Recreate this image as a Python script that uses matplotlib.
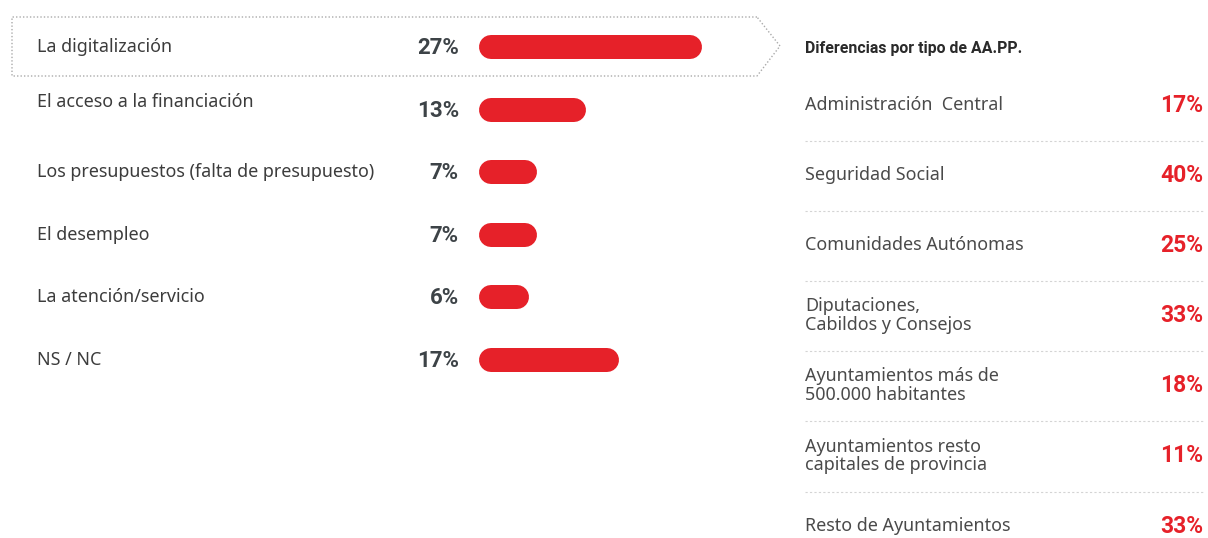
import matplotlib.pyplot as plt
from matplotlib.lines import Line2D

# data
categories = ['La digitalización', 'El acceso a la financiación',
              'Los presupuestos (falta de presupuesto)', 'El desempleo',
              'La atención/servicio', 'NS / NC']
values = [27, 13, 7, 7, 6, 17]

aapp_title = 'Diferencias por tipo de AA.PP.'
aapp_labels = ['Administración  Central', 'Seguridad Social', 'Comunidades Autónomas',
               'Diputaciones,\nCabildos y Consejos',
               'Ayuntamientos más de\n500.000 habitantes',
               'Ayuntamientos resto\ncapitales de provincia',
               'Resto de Ayuntamientos']
aapp_values = [17, 40, 25, 33, 18, 11, 33]

RED = '#E62129'
TXT = '#3c3c3c'
PCT = '#3d4347'
plt.rcParams['font.family'] = ['Noto Sans', 'DejaVu Sans']
BOLD = ['Roboto', 'DejaVu Sans']

W, H = 1208, 538
fig = plt.figure(figsize=(W / 100, H / 100), dpi=100)
ax = fig.add_axes([0, 0, 1, 1])
ax.set_xlim(0, W)
ax.set_ylim(H, 0)
ax.axis('off')

# bar axes: 1 unit = px_per_pct pixels, starts at x=479
px_per_pct = 8.25
bx0, bw = 479, 320
bax = fig.add_axes([bx0 / W, 0, bw / W, 1])
bax.set_xlim(0, bw / px_per_pct)
bax.set_ylim(H, 0)
bax.axis('off')

row_y = [47 + i * 62.6 for i in range(len(categories))]
bar_h = 24
cap = (bar_h / 2) / px_per_pct
for i, (cat, v) in enumerate(zip(categories, values)):
    y = row_y[i]
    ly = y - 8 if i == 1 else y
    ax.text(37, ly, cat, ha='left', va='center', fontsize=12.9, color=TXT)
    ax.text(459, y + 1, f'{v}%', ha='right', va='center', fontsize=16,
            fontweight='bold', color=PCT, family=BOLD)
    bax.plot([cap, v - cap], [y, y], color=RED, lw=bar_h * 0.72,
             solid_capstyle='round')

# dotted callout around first row
bx = [757, 12, 12, 757, 780, 757]
by = [17, 17, 76, 76, 46, 17]
ax.add_line(Line2D(bx, by, color='#aaaaaa', lw=1.0, linestyle=(0, (1, 1.5))))

# right panel
ax.text(805, 48, aapp_title, ha='left', va='center', fontsize=11.4,
        fontweight='bold', color='#2a2a2a', family=BOLD)
r_y = [105 + i * 70.2 for i in range(len(aapp_labels))]
for i, (lab, v) in enumerate(zip(aapp_labels, aapp_values)):
    y = r_y[i]
    ax.text(805, y, lab, ha='left', va='center', fontsize=12.9, color='#4a4a4a',
            linespacing=1.05)
    ax.text(1203, y, f'{v}%', ha='right', va='center', fontsize=16.5,
            fontweight='bold', color=RED, family=BOLD)
    if i < len(aapp_labels) - 1:
        sy = y + 35.5
        ax.plot([805, 1203], [sy, sy], color='#d4d4d4', lw=0.8,
                linestyle=(0, (2, 2)))

fig.savefig('out.png', dpi=100)
